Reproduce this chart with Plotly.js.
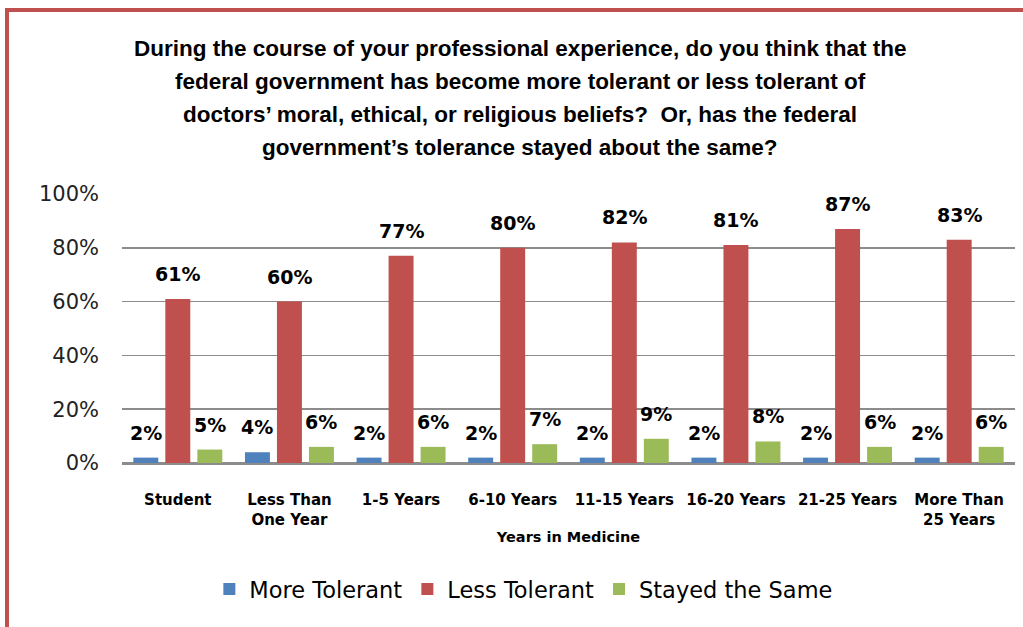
<!DOCTYPE html>
<html>
<head>
<meta charset="utf-8">
<script src="https://cdn.plot.ly/plotly-3.0.1.min.js"></script>
<style>
  html, body { margin: 0; padding: 0; background: #fff; }
  #wrap { position: relative; width: 1023px; height: 627px; overflow: hidden; }
  #chart { position: absolute; left: 0; top: 0; width: 1023px; height: 627px; }
  #frame { position: absolute; left: 5px; top: 8px; width: 1100px; height: 700px;
           border-left: 4px solid #c0504d; border-top: 4px solid #c0504d; pointer-events: none; }
</style>
</head>
<body>
<div id="wrap">
  <div id="chart"></div>
  <div id="frame"></div>
</div>
<script>
const categories = ["Student", "Less Than<br>One Year", "1-5 Years", "6-10 Years",
                    "11-15 Years", "16-20 Years", "21-25 Years", "More Than<br>25 Years"];
const moreTolerant = [0.02, 0.04, 0.02, 0.02, 0.02, 0.02, 0.02, 0.02];
const lessTolerant = [0.61, 0.60, 0.77, 0.80, 0.82, 0.81, 0.87, 0.83];
const stayedSame   = [0.05, 0.06, 0.06, 0.07, 0.09, 0.08, 0.06, 0.06];
const seriesNames  = ["More Tolerant", "Less Tolerant", "Stayed the Same"];
const seriesColors = ["#4f81bd", "#c0504d", "#9bbb59"];
const yTicks = [0, 0.2, 0.4, 0.6, 0.8, 1.0];
const yTickText = ["0%", "20%", "40%", "60%", "80%", "100%"];
const titleLines = [
  "During the course of your professional experience, do you think that the",
  "federal government has become more tolerant or less tolerant of",
  "doctors\u2019 moral, ethical, or religious beliefs?  Or, has the federal",
  "government\u2019s tolerance stayed about the same?"
];

const series = [moreTolerant, lessTolerant, stayedSame];
const bargap = 0.14;
const slot = (1 - bargap) / series.length;

const traces = series.map((vals, s) => ({
  type: "bar",
  name: seriesNames[s],
  x: categories,
  y: vals,
  marker: { color: seriesColors[s] },
  hoverinfo: "skip"
}));

const annotations = [];
series.forEach((vals, s) => {
  vals.forEach((v, i) => {
    annotations.push({
      x: i + (s - 1) * slot,
      y: v,
      xref: "x", yref: "y",
      text: Math.round(v * 100) + "%",
      showarrow: false,
      yanchor: "bottom",
      yshift: 12,
      font: { family: "DejaVu Sans", size: 19, color: "#000", weight: "bold" }
    });
  });
});

// Title lines (chart-title block, placed relative to the paper)
const plotTop = 194, plotBottom = 463;
titleLines.forEach((line, k) => {
  const yPx = 48 + k * 33.3;
  annotations.push({
    text: line,
    xref: "paper", yref: "paper",
    x: (520 - 122) / (1015 - 122), xanchor: "center",
    y: (plotBottom - yPx) / (plotBottom - plotTop), yanchor: "middle",
    showarrow: false,
    font: { family: "Liberation Sans", size: 22.5, color: "#000", weight: "bold" }
  });
});

const layout = {
  width: 1023, height: 627,
  paper_bgcolor: "#fff", plot_bgcolor: "#fff",
  margin: { l: 122, r: 8, t: 194, b: 164 },
  barmode: "group",
  bargap: bargap,
  bargroupgap: 0.22,
  showlegend: true,
  legend: {
    orientation: "h", x: 0.45, xanchor: "center", y: -0.47, yanchor: "middle",
    font: { family: "DejaVu Sans", size: 22.5, color: "#000" },
    itemsizing: "constant", traceorder: "normal", itemwidth: 30
  },
  xaxis: {
    type: "category",
    showgrid: false, showline: false, zeroline: false,
    ticks: "", ticklen: 0, ticklabelstandoff: 26,
    tickfont: { family: "DejaVu Sans", size: 15, color: "#000", weight: "bold" },
    title: { text: "Years in Medicine", standoff: 4,
             font: { family: "DejaVu Sans", size: 14.5, color: "#000", weight: "bold" } },
    automargin: false
  },
  yaxis: {
    range: [0, 1.0], tickvals: yTicks, ticktext: yTickText,
    showgrid: true, gridcolor: "#8c8c8c", gridwidth: 1.5,
    zeroline: true, zerolinecolor: "#8c8c8c", zerolinewidth: 3,
    showline: false, ticks: "", ticklen: 0, ticklabelstandoff: 22,
    tickfont: { family: "DejaVu Sans", size: 21, color: "#222" },
    automargin: false
  },
  annotations: annotations
};

Plotly.newPlot("chart", traces, layout, { displayModeBar: false, staticPlot: true });
</script>
</body>
</html>
